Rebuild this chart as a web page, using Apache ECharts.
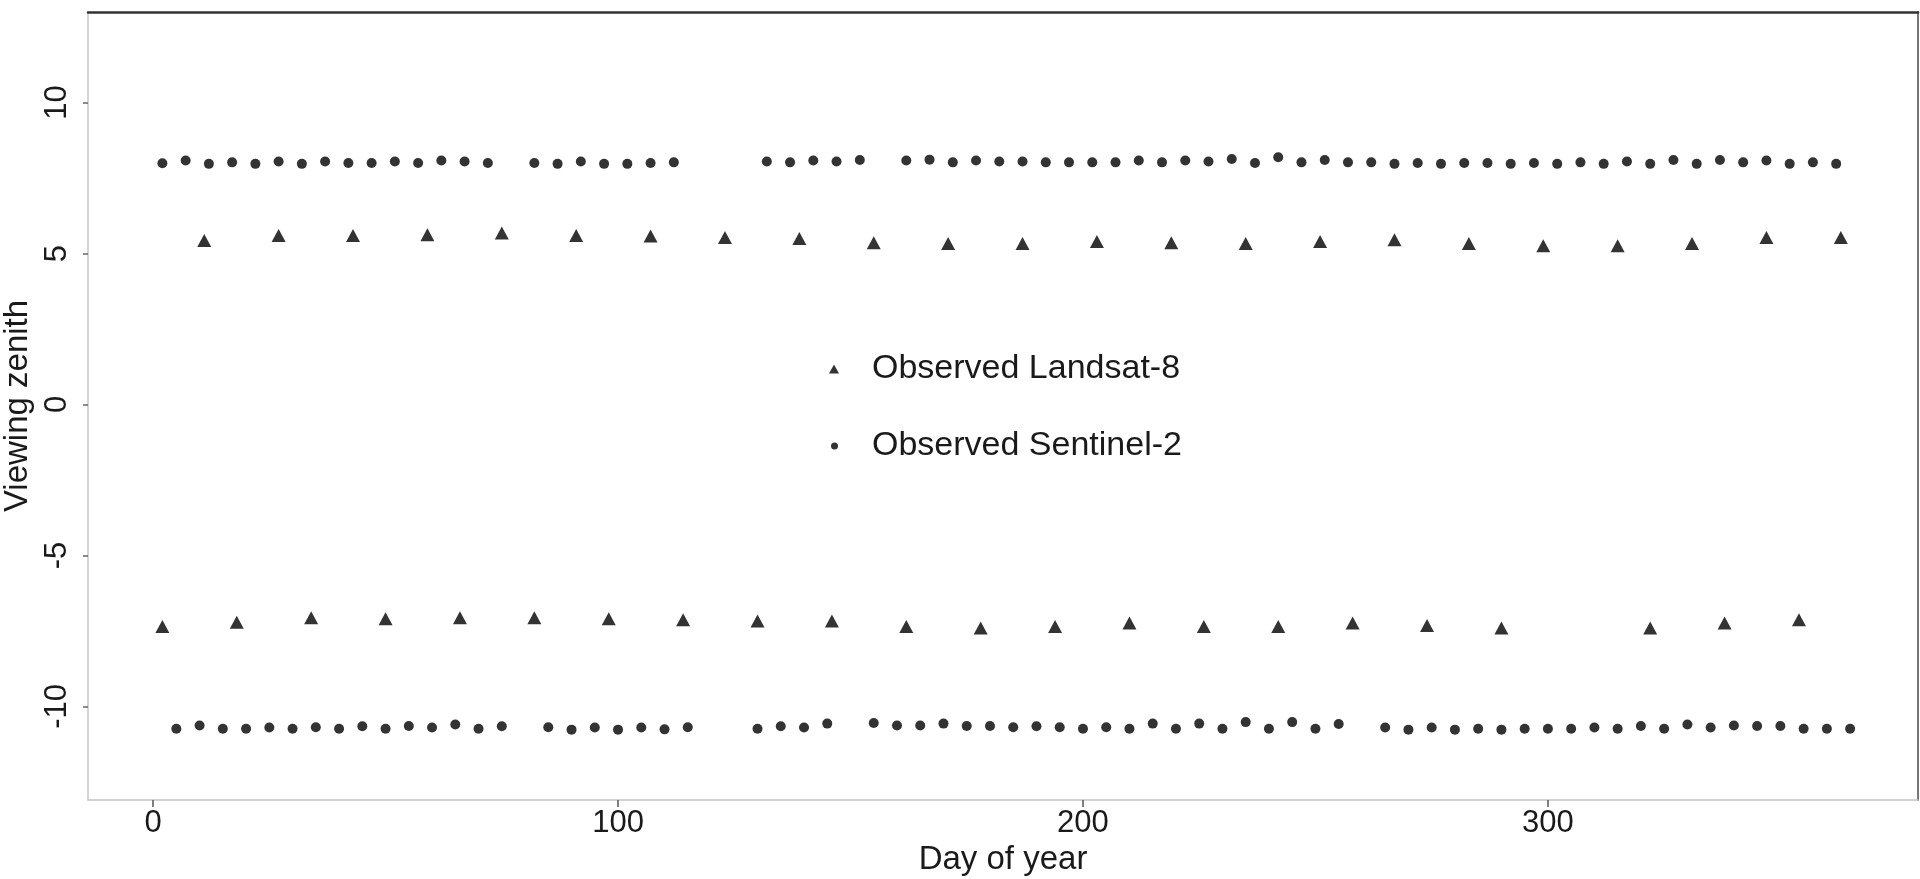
<!DOCTYPE html>
<html>
<head>
<meta charset="utf-8">
<title>Viewing zenith by day of year</title>
<script src="https://cdn.jsdelivr.net/npm/echarts@6/dist/echarts.min.js"></script>
<style>
  html, body { margin: 0; padding: 0; background: #ffffff; }
  #chart { width: 1920px; height: 879px; }
</style>
</head>
<body>
<div id="chart"></div>
<script>
// Landsat-8 observations: positive-angle path (16-day repeat)
const landsatPosDays = [11, 27, 43, 59, 75, 91, 107, 123, 139, 155, 171, 187, 203, 219, 235, 251, 267, 283, 299, 315, 331, 347, 363];
const landsatPosVza  = [5.43, 5.60, 5.60, 5.62, 5.68, 5.60, 5.58, 5.53, 5.50, 5.36, 5.33, 5.33, 5.40, 5.36, 5.33, 5.40, 5.46, 5.33, 5.26, 5.26, 5.33, 5.53, 5.53];

// Landsat-8 observations: negative-angle path
const landsatNegDays = [2, 18, 34, 50, 66, 82, 98, 114, 130, 146, 162, 178, 194, 210, 226, 242, 258, 274, 290, 322, 338, 354];
const landsatNegVza  = [-7.35, -7.21, -7.06, -7.10, -7.06, -7.06, -7.10, -7.13, -7.17, -7.17, -7.35, -7.40, -7.35, -7.24, -7.35, -7.35, -7.24, -7.32, -7.40, -7.40, -7.24, -7.13];

// Sentinel-2 observations: positive-angle orbit (5-day revisit)
const sentinelPosDays = [2, 7, 12, 17, 22, 27, 32, 37, 42, 47, 52, 57, 62, 67, 72,
  82, 87, 92, 97, 102, 107, 112,
  132, 137, 142, 147, 152,
  162, 167, 172, 177, 182, 187, 192, 197, 202, 207, 212, 217, 222, 227, 232, 237, 242, 247, 252, 257,
  262, 267, 272, 277, 282, 287, 292, 297, 302, 307, 312, 317, 322, 327, 332, 337, 342, 347, 352, 357, 362];
const sentinelPosVza  = [7.99, 8.08, 7.97, 8.02, 7.97, 8.05, 7.97, 8.05, 8.00, 8.00, 8.05, 8.00, 8.08, 8.05, 8.00,
  8.00, 7.97, 8.05, 7.97, 7.97, 8.00, 8.02,
  8.05, 8.02, 8.08, 8.05, 8.10,
  8.08, 8.11, 8.02, 8.08, 8.05, 8.05, 8.02, 8.02, 8.02, 8.02, 8.08, 8.02, 8.08, 8.05, 8.13, 8.00, 8.19, 8.02, 8.10, 8.02,
  8.02, 7.97, 8.00, 7.97, 8.00, 8.00, 7.97, 8.00, 7.97, 8.02, 7.97, 8.05, 7.97, 8.10, 7.97, 8.10, 8.02, 8.08, 7.97, 8.02, 7.97];

// Sentinel-2 observations: negative-angle orbit
const sentinelNegDays = [5, 10, 15, 20, 25, 30, 35, 40, 45, 50, 55, 60, 65, 70, 75,
  85, 90, 95, 100, 105, 110, 115,
  130, 135, 140, 145,
  155, 160, 165, 170, 175, 180, 185, 190, 195, 200, 205, 210, 215, 220, 225, 230, 235, 240, 245, 250, 255,
  265, 270, 275, 280, 285, 290, 295, 300, 305, 310, 315, 320, 325, 330, 335, 340, 345, 350, 355, 360, 365];
const sentinelNegVza  = [-10.74, -10.63, -10.74, -10.74, -10.70, -10.74, -10.69, -10.74, -10.66, -10.74, -10.65, -10.70, -10.60, -10.74, -10.66,
  -10.69, -10.77, -10.70, -10.77, -10.70, -10.76, -10.69,
  -10.74, -10.66, -10.70, -10.57,
  -10.55, -10.63, -10.63, -10.57, -10.65, -10.65, -10.69, -10.66, -10.69, -10.74, -10.69, -10.74, -10.57, -10.74, -10.57, -10.74, -10.52, -10.74, -10.52, -10.74, -10.58,
  -10.70, -10.77, -10.70, -10.77, -10.74, -10.77, -10.74, -10.74, -10.74, -10.70, -10.74, -10.65, -10.74, -10.60, -10.70, -10.63, -10.65, -10.65, -10.74, -10.74, -10.74];

// Axis tick labels
const xTickValues = [0, 100, 200, 300];
const yTickValues = [-10, -5, 0, 5, 10];

const seriesNames = ['Observed Landsat-8', 'Observed Sentinel-2'];

function toPoints(days, values) {
  return days.map((d, i) => [d, values[i]]);
}

const FONT = '"Liberation Sans", Arial, Helvetica, sans-serif';
const INK = '#1a1a1a';

const chart = echarts.init(document.getElementById('chart'), null, { renderer: 'canvas' });

const option = {
  animation: false,
  backgroundColor: '#ffffff',
  textStyle: { fontFamily: FONT },
  grid: { left: 88, right: 2, top: 12, bottom: 79, containLabel: false, outerBoundsMode: 'none' },
  xAxis: [
    {
      type: 'value',
      min: -14,
      max: 379.6,
      name: 'Day of year',
      nameLocation: 'middle',
      nameGap: 41,
      nameTextStyle: { fontFamily: FONT, fontSize: 33, color: INK },
      axisLine: { show: true, onZero: false, lineStyle: { color: '#c2c2c2', width: 1.5 } },
      axisTick: { show: true, customValues: xTickValues, length: 7, lineStyle: { color: '#555555', width: 1.5 } },
      axisLabel: { customValues: xTickValues, margin: 8, fontSize: 31, color: INK, fontFamily: FONT },
      splitLine: { show: false }
    },
    {
      type: 'value',
      position: 'top',
      min: -14,
      max: 379.6,
      axisLine: { show: true, onZero: false, lineStyle: { color: '#333333', width: 2.5 } },
      axisTick: { show: false },
      axisLabel: { show: false },
      splitLine: { show: false }
    }
  ],
  yAxis: [
    {
      type: 'value',
      min: -13.1,
      max: 13,
      name: 'Viewing zenith',
      nameLocation: 'middle',
      nameGap: 48,
      nameTextStyle: { fontFamily: FONT, fontSize: 33, color: INK },
      axisLine: { show: true, onZero: false, lineStyle: { color: '#c8c8c8', width: 1.5 } },
      axisTick: { show: true, customValues: yTickValues, length: 5, lineStyle: { color: '#666666', width: 1.5 } },
      axisLabel: { customValues: yTickValues, rotate: 90, margin: 15, fontSize: 31, color: INK, fontFamily: FONT },
      splitLine: { show: false }
    },
    {
      type: 'value',
      position: 'right',
      min: -13.1,
      max: 13,
      axisLine: { show: true, onZero: false, lineStyle: { color: '#777777', width: 2 } },
      axisTick: { show: false },
      axisLabel: { show: false },
      splitLine: { show: false }
    }
  ],
  legend: [
    {
      data: [{ name: seriesNames[0], icon: 'triangle' }],
      left: 829,
      top: 352,
      padding: 0,
      itemWidth: 10,
      itemHeight: 9,
      selectedMode: false,
      textStyle: { fontFamily: FONT, fontSize: 34, color: INK, padding: [0, 0, 0, 28] }
    },
    {
      data: [{ name: seriesNames[1], icon: 'circle' }],
      left: 831,
      top: 429,
      padding: 0,
      itemWidth: 7,
      itemHeight: 7,
      selectedMode: false,
      textStyle: { fontFamily: FONT, fontSize: 34, color: INK, padding: [0, 0, 0, 29] }
    }
  ],
  series: [
    {
      name: seriesNames[0],
      type: 'scatter',
      symbol: 'triangle',
      symbolSize: [14, 13],
      itemStyle: { color: '#000000' },
      data: toPoints(landsatPosDays, landsatPosVza).concat(toPoints(landsatNegDays, landsatNegVza))
    },
    {
      name: seriesNames[1],
      type: 'scatter',
      symbol: 'circle',
      symbolSize: 10,
      itemStyle: { color: '#000000' },
      data: toPoints(sentinelPosDays, sentinelPosVza).concat(toPoints(sentinelNegDays, sentinelNegVza))
    }
  ]
};

chart.setOption(option);
</script>
</body>
</html>
